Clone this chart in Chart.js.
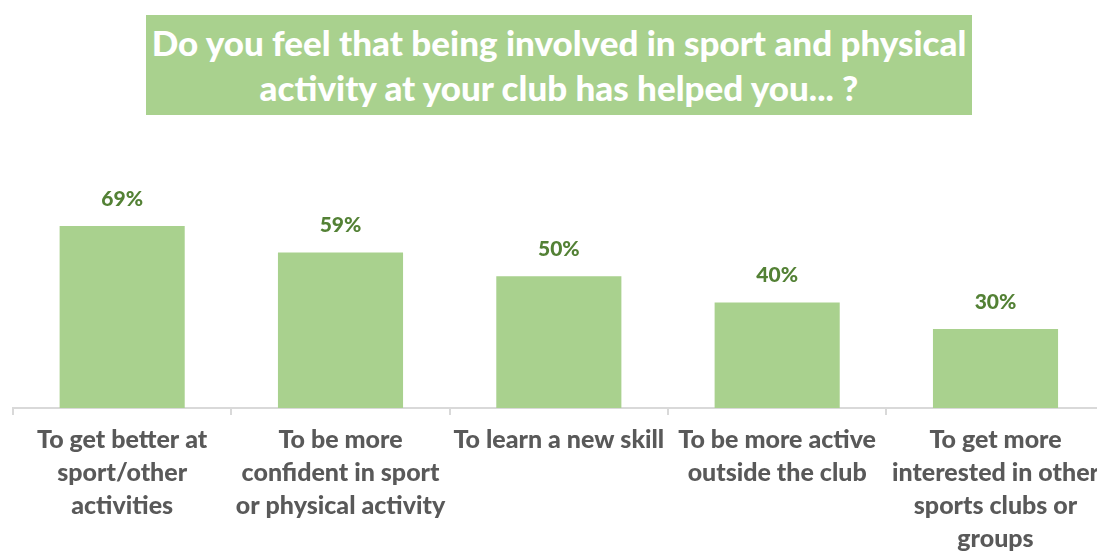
<!DOCTYPE html>
<html>
<head>
<meta charset="utf-8">
<script src="https://cdn.jsdelivr.net/npm/chart.js@4.4.0/dist/chart.umd.min.js"></script>
<style>
  html, body { margin: 0; padding: 0; background: #fff; overflow: hidden; }
  #wrap { position: relative; width: 1097px; height: 551px; overflow: hidden; }
  #titre {
    position: absolute; left: 146px; top: 15px; width: 826px; height: 100px;
    background: #a9d18e; color: #fff; font-family: Lato, "Open Sans", sans-serif;
    font-weight: 900; font-size: 35px; line-height: 45px; text-align: center;
    display: flex; align-items: center; justify-content: center; white-space: nowrap;
  }
  #grafico { position: absolute; left: 0; top: 0; }
</style>
</head>
<body>
<div id="wrap">
  <canvas id="grafico" width="1107" height="551"></canvas>
  <div id="titre">Do you feel that being involved in sport and physical<br>activity at your club has helped you... ?</div>
</div>
<script>
const categorias = [
  ["To get better at", "sport/other", "activities"],
  ["To be more", "confident in sport", "or physical activity"],
  ["To learn a new skill"],
  ["To be more active", "outside the club"],
  ["To get more", "interested in other", "sports clubs or", "groups"]
];
const valores = [69, 59, 50, 40, 30];

// escreve o percentual acima de cada barra
const rotulosBarras = {
  id: "rotulosBarras",
  afterDatasetsDraw(chart) {
    const ctx = chart.ctx;
    const meta = chart.getDatasetMeta(0);
    ctx.save();
    ctx.fillStyle = "#538135";
    ctx.font = "900 21px Lato, 'Open Sans', sans-serif";
    ctx.textAlign = "center";
    ctx.textBaseline = "middle";
    meta.data.forEach((barra, i) => {
      ctx.fillText(valores[i] + "%", barra.x, barra.y - 27);
    });
    ctx.restore();
  }
};

new Chart(document.getElementById("grafico"), {
  type: "bar",
  data: {
    labels: categorias,
    datasets: [{
      data: valores,
      backgroundColor: "#a9d18e",
      categoryPercentage: 1,
      barPercentage: 0.573
    }]
  },
  options: {
    responsive: false,
    animation: false,
    layout: { padding: { left: 13, right: 0, top: 197, bottom: 0 } },
    plugins: {
      legend: { display: false },
      tooltip: { enabled: false }
    },
    scales: {
      y: { display: false, min: 0, max: 80 },
      x: {
        afterFit(escala) { escala.height = 143; },
        border: { color: "#d9d9d9", width: 2 },
        grid: { offset: true, drawOnChartArea: false, color: "#d9d9d9", tickLength: 7, lineWidth: 2 },
        ticks: {
          color: "#595959",
          autoSkip: false,
          maxRotation: 0,
          padding: 8,
          font: { family: "Lato, 'Open Sans', sans-serif", size: 25, weight: "900", lineHeight: 1.32 }
        }
      }
    }
  },
  plugins: [rotulosBarras]
});
</script>
</body>
</html>
